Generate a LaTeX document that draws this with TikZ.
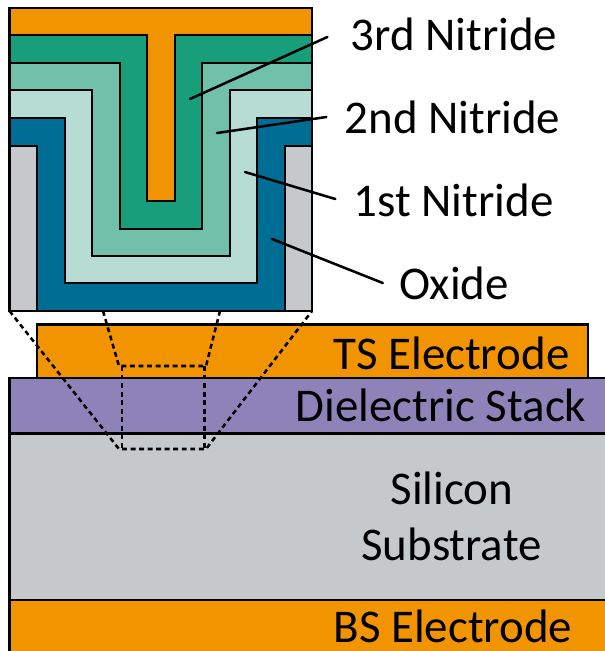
\documentclass[tikz,border=0pt]{standalone}
\usepackage{fontspec}
\setmainfont{Carlito}
\usepackage{xcolor}
\definecolor{Layer-orange}{RGB}{242,148,0}
\definecolor{Layer-third}{RGB}{25,158,124}
\definecolor{Layer-second}{RGB}{112,192,170}
\definecolor{Layer-first}{RGB}{182,220,212}
\definecolor{Layer-oxide}{RGB}{0,110,148}
\definecolor{Layer-grey}{RGB}{198,201,204}
\definecolor{Layer-purple}{RGB}{141,131,184}
\tikzstyle{l}=[draw=black,line width=1.9pt,line join=miter]
\tikzstyle{t}=[anchor=base,inner sep=0pt,font=\fontsize{35.2}{36}\selectfont,text=black]
\tikzstyle{lead}=[black,line width=1.9pt,line cap=round]
\tikzstyle{zoom}=[black,line width=1.9pt,dash pattern=on 3.7pt off 2.7pt]
\begin{document}
\begin{tikzpicture}[x=0.75pt,y=-0.75pt]
    \useasboundingbox (0,0) rectangle (605,651);

    % lower stack
    \fill[white] (0,0) rectangle (605,651);
    \clip (0,0) rectangle (605,651);
    \draw[l,fill=Layer-orange] (37,378) -- (37,324.5) -- (588,324.5) -- (588,378);
    \draw[l,fill=Layer-purple] (9.5,378) rectangle (620,433.5);
    \draw[l,fill=Layer-grey]   (9.5,433.5) rectangle (620,600);
    \draw[l,fill=Layer-orange] (9.5,600) rectangle (620,670);

    % inset, back to front
    \draw[l,fill=Layer-grey]   (9.5,146) rectangle (312,311);
    \draw[l,fill=Layer-oxide]  (9.5,118) -- (312,118) -- (312,146) -- (285,146) -- (285,311)
                               -- (37,311) -- (37,146) -- (9.5,146) -- cycle;
    \draw[l,fill=Layer-first]  (9.5,90) -- (312,90) -- (312,118) -- (257,118) -- (257,283)
                               -- (65,283) -- (65,118) -- (9.5,118) -- cycle;
    \draw[l,fill=Layer-second] (9.5,63) -- (312,63) -- (312,90) -- (230,90) -- (230,256)
                               -- (92,256) -- (92,90) -- (9.5,90) -- cycle;
    \draw[l,fill=Layer-third]  (9.5,35) -- (312,35) -- (312,63) -- (202,63) -- (202,229)
                               -- (120,229) -- (120,63) -- (9.5,63) -- cycle;
    \draw[l,fill=Layer-orange] (9.5,8) -- (312,8) -- (312,35) -- (175,35) -- (175,201)
                               -- (147,201) -- (147,35) -- (9.5,35) -- cycle;

    % zoom outline
    \coordinate (top-l) at (119,366);
    \coordinate (top-r) at (206,366);
    \coordinate (bot-l) at (119,449);
    \coordinate (bot-r) at (206,449);
    \coordinate (side-a) at (122,366);
    \coordinate (side-b) at (122,449);
    \coordinate (side-c) at (204.5,366);
    \coordinate (side-d) at (204.5,449);
    \coordinate (inset-a) at (9.5,311);
    \coordinate (inset-b) at (103,311);
    \coordinate (inset-c) at (220,311);
    \coordinate (inset-d) at (312,311);
    \draw[zoom] (inset-a) -- (bot-l) -- (bot-r) -- (inset-d);
    \draw[zoom] (inset-b) -- (top-l) -- (top-r) -- (inset-c);
    \draw[zoom] (side-a) -- (side-b);
    \draw[zoom] (side-c) -- (side-d);

    % labels
    \node[t] (third)   at (454,50.5)  {3rd Nitride};
    \node[t] (second)  at (452.5,133.5) {2nd Nitride};
    \node[t] (first)   at (453.5,216.5) {1st Nitride};
    \node[t] (oxide)   at (454,299)   {Oxide};
    \node[t] (ts)      at (451.5,369.5) {TS Electrode};
    \node[t] (stack)   at (441,421.5) {Dielectric Stack};
    \node[t] (silicon) at (452,504.5) {Silicon};
    \node[t] (subst)   at (451.5,560.5) {Substrate};
    \node[t] (bs)      at (453,642.5) {BS Electrode};

    \coordinate (third-end)  at (190,99);
    \coordinate (second-end) at (217,133);
    \coordinate (first-end)  at (245,172);
    \coordinate (oxide-end)  at (272,239);
    \draw[lead] (third.base west)+(-23,-13.5) -- (third-end);
    \draw[lead] (second.base west)+(-18,-16.5) -- (second-end);
    \draw[lead] (first.base west)+(-18,-17.5) -- (first-end);
    \draw[lead] (oxide.base west)+(-16,-16) -- (oxide-end);
\end{tikzpicture}
\end{document}
